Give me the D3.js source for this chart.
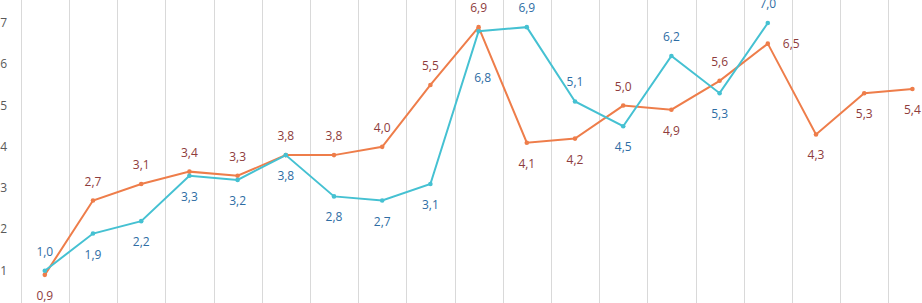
<!DOCTYPE html>
<html lang="en">
  <head>
    <meta charset="UTF-8" />
    <title>Two series line chart</title>
    <script src="https://d3js.org/d3.v7.min.js"></script>
    <style>
      body {
        margin: 0;
        background: #fff;
        font-family: "Open Sans", sans-serif;
      }
      .grid line {
        stroke: #d9d9d9;
        stroke-width: 1;
      }
      .y-label {
        font-size: 12px;
        fill: #595959;
      }
      .val {
        font-size: 12px;
      }
      .line {
        fill: none;
        stroke-width: 2;
      }
    </style>
  </head>
  <body>
    <div id="chart"></div>

    <script>
      const width = 922,
        height = 303;

      // values
      const orangeValues = [0.9, 2.7, 3.1, 3.4, 3.3, 3.8, 3.8, 4.0, 5.5, 6.9, 4.1, 4.2, 5.0, 4.9, 5.6, 6.5, 4.3, 5.3, 5.4];
      const cyanValues = [1.0, 1.9, 2.2, 3.3, 3.2, 3.8, 2.8, 2.7, 3.1, 6.8, 6.9, 5.1, 4.5, 6.2, 5.3, 7.0];
      const yTicks = [1, 2, 3, 4, 5, 6, 7];
      const categories = d3.range(orangeValues.length);

      const series = [
        { name: "orange", values: orangeValues, line: "#ee7d4a", label: "#8e3c3c", other: cyanValues, winsTie: true },
        { name: "cyan", values: cyanValues, line: "#45c1d2", label: "#2e6da4", other: orangeValues, winsTie: false },
      ];

      const svg = d3
        .select("#chart")
        .append("svg")
        .attr("width", width)
        .attr("height", height);

      const x = d3
        .scaleBand()
        .domain(categories)
        .range([20.7, 20.7 + 48.2 * categories.length]);
      const y = d3.scaleLinear().domain([0, 7]).range([312, 23]);

      // vertical category gridlines
      svg
        .append("g")
        .attr("class", "grid")
        .selectAll("line")
        .data(categories)
        .enter()
        .append("line")
        .attr("x1", (d) => Math.round(x(d)) + 0.5)
        .attr("x2", (d) => Math.round(x(d)) + 0.5)
        .attr("y1", 0)
        .attr("y2", height);

      svg
        .append("g")
        .selectAll("text")
        .data(yTicks)
        .enter()
        .append("text")
        .attr("class", "y-label")
        .attr("x", 7)
        .attr("y", (d) => y(d) + 4)
        .attr("text-anchor", "end")
        .text((d) => d);

      const cx = (i) => x(i) + x.bandwidth() / 2;
      const line = d3
        .line()
        .x((d, i) => cx(i))
        .y((d) => y(d));

      const fmt = (v) => d3.format(".1f")(v).replace(".", ",");

      // label goes above when this series is on top at that category
      const side = (s, i) => {
        if (s.name === "orange" && i === 15) return "right";
        if (s.name === "cyan" && i === 9) return "far-below";
        const o = s.other[i];
        if (o === undefined) return "below";
        const v = s.values[i];
        if (v > o || (v === o && s.winsTie)) return "above";
        return "below";
      };

      series.forEach((s) => {
        const g = svg.append("g");
        g.append("path")
          .attr("class", "line")
          .attr("d", line(s.values))
          .style("stroke", s.line);

        g.selectAll("circle")
          .data(s.values)
          .enter()
          .append("circle")
          .attr("cx", (d, i) => cx(i))
          .attr("cy", (d) => y(d))
          .attr("r", 2.3)
          .style("fill", s.line);

        g.selectAll("text")
          .data(s.values)
          .enter()
          .append("text")
          .attr("class", "val")
          .style("fill", s.label)
          .attr("text-anchor", (d, i) => (side(s, i) === "right" ? "start" : "middle"))
          .attr("x", (d, i) => {
            const p = side(s, i);
            if (p === "right") return cx(i) + 15;
            if (p === "far-below") return cx(i) + 4;
            return cx(i);
          })
          .attr("y", (d, i) => {
            const p = side(s, i);
            if (p === "above") return y(d) - 15;
            if (p === "below") return y(d) + 25;
            if (p === "far-below") return y(d) + 51;
            return y(d) + 4;
          })
          .text((d) => fmt(d));
      });
    </script>
  </body>
</html>
